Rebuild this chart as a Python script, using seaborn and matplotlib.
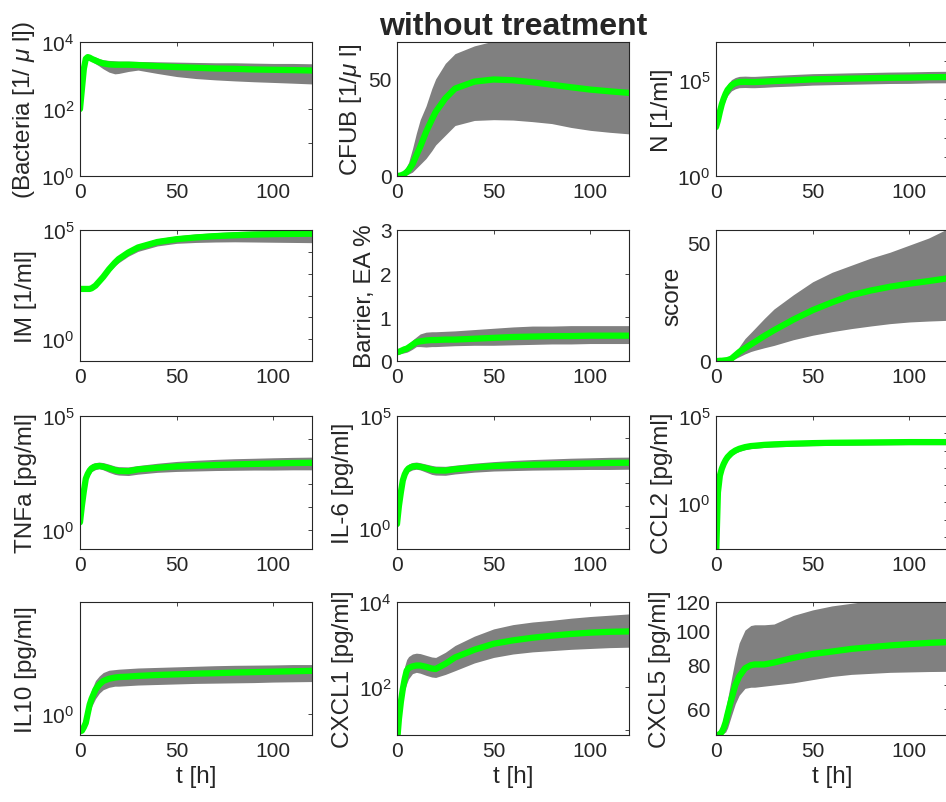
import matplotlib
matplotlib.use("Agg")
import matplotlib.pyplot as plt
import seaborn as sns
from matplotlib.ticker import FixedLocator, NullFormatter, FixedFormatter

sns.set_style("white")
plt.rcParams['font.family'] = ['Liberation Sans', 'DejaVu Sans']
plt.rcParams['mathtext.fontset'] = 'custom'
plt.rcParams['mathtext.rm'] = 'Liberation Sans'
plt.rcParams['mathtext.it'] = 'Liberation Sans:italic'

# time grid [h]
t = [0, 1, 2, 3, 4, 5, 6, 8, 10, 12, 15, 18, 20, 25, 30, 40, 50, 60, 70, 80, 90, 100, 110, 120]

# mean (green) and lower / upper envelope of the gray simulations
bacteria_mean = [100, 400, 1600, 3150, 3550, 3400, 3150, 2800, 2500, 2300, 2150, 2100, 2100, 2100, 2050, 1900, 1780, 1700, 1620, 1580, 1510, 1480, 1450, 1410]
bacteria_hi = [112, 500, 1995, 3800, 4170, 3980, 3800, 3550, 3160, 2950, 2820, 2750, 2690, 2690, 2630, 2570, 2510, 2450, 2400, 2400, 2340, 2290, 2290, 2240]
bacteria_lo = [89, 316, 1260, 2630, 3160, 2950, 2630, 2240, 1900, 1580, 1260, 1120, 1150, 1320, 1450, 1150, 930, 810, 740, 690, 650, 620, 590, 560]

cfub_mean = [0, 0.1, 0.3, 0.7, 1.2, 2, 3, 6, 10.6, 15, 22.6, 29, 33, 40, 45, 48.6, 49.7, 49.3, 48.3, 47, 45.7, 44.5, 43.6, 42.8]
cfub_hi = [0, 0.3, 1, 2, 3.5, 5, 7, 14, 22, 29, 36, 45, 50, 58, 63, 67, 69.5, 71, 72, 72, 72, 71.5, 71, 70]
cfub_lo = [0, 0, 0.1, 0.2, 0.4, 0.7, 1, 2, 4, 6, 9, 13, 16, 21, 26, 28.6, 29, 28.8, 28, 27, 25, 23.5, 22.5, 21.7]

n_mean = [360, 790, 2240, 5600, 11200, 20000, 31600, 55000, 71000, 81000, 83000, 81000, 81000, 85000, 91000, 100000, 112000, 117000, 123000, 129000, 135000, 138000, 145000, 148000]
n_hi = [450, 1200, 4000, 10500, 21000, 39000, 62000, 108000, 140000, 160000, 165000, 160000, 160000, 170000, 180000, 200000, 222000, 232000, 245000, 256000, 268000, 275000, 288000, 295000]
n_lo = [295, 520, 1250, 2900, 5700, 10100, 16000, 28000, 36000, 41000, 42000, 41000, 41000, 43000, 46000, 50000, 56000, 59000, 62000, 65000, 68000, 69000, 73000, 74000]

im_mean = [200, 200, 200, 200, 200, 200, 214, 282, 447, 708, 1585, 3160, 4680, 9330, 15850, 28200, 38000, 45700, 52500, 57500, 61700, 64600, 66100, 67600]
im_hi = [224, 224, 224, 224, 224, 224, 240, 331, 537, 891, 2000, 4170, 6170, 12600, 21400, 39800, 53700, 66100, 75900, 85100, 91200, 95500, 100000, 105000]
im_lo = [178, 178, 178, 178, 178, 178, 190, 240, 363, 562, 1200, 2240, 3160, 6310, 10500, 18600, 24500, 26900, 28200, 28800, 28200, 27500, 26900, 26300]

barrier_mean = [0.2, 0.21, 0.23, 0.25, 0.27, 0.28, 0.31, 0.37, 0.43, 0.45, 0.47, 0.48, 0.48, 0.49, 0.49, 0.51, 0.53, 0.55, 0.56, 0.57, 0.57, 0.58, 0.58, 0.58]
barrier_hi = [0.22, 0.24, 0.27, 0.3, 0.33, 0.36, 0.4, 0.48, 0.55, 0.62, 0.66, 0.67, 0.67, 0.68, 0.69, 0.72, 0.75, 0.78, 0.8, 0.8, 0.81, 0.81, 0.81, 0.81]
barrier_lo = [0.15, 0.16, 0.17, 0.18, 0.19, 0.2, 0.22, 0.27, 0.33, 0.33, 0.32, 0.33, 0.33, 0.34, 0.35, 0.36, 0.36, 0.37, 0.38, 0.39, 0.39, 0.4, 0.4, 0.4]

score_mean = [0, 0, 0.1, 0.1, 0.2, 0.3, 0.4, 1.0, 2.4, 3.8, 5.4, 7, 8, 10.6, 13, 17.5, 21.5, 24.8, 27.8, 29.8, 31.4, 32.7, 33.8, 35]
score_hi = [0, 0, 0.2, 0.3, 0.5, 0.7, 1, 2.2, 3.8, 6, 9.5, 12, 13.7, 18, 22, 28, 33.5, 37.5, 40.5, 43.5, 46, 49, 52, 56]
score_lo = [0, 0, 0, 0, 0, 0.1, 0.1, 0.4, 1, 1.8, 3, 4, 4.5, 5.6, 6.6, 9, 10.9, 12.4, 13.7, 14.8, 15.8, 16.5, 16.9, 17.2]

tnfa_mean = [2.1, 11.5, 50, 174, 282, 398, 501, 603, 631, 589, 501, 417, 380, 372, 447, 525, 603, 646, 692, 741, 776, 813, 851, 871]
tnfa_hi = [2.2, 14, 71, 251, 447, 631, 794, 891, 933, 891, 759, 631, 589, 575, 661, 832, 1000, 1120, 1230, 1320, 1380, 1450, 1510, 1550]
tnfa_lo = [1.9, 8.9, 35, 112, 191, 263, 355, 437, 479, 427, 331, 269, 251, 240, 275, 331, 363, 380, 398, 407, 417, 417, 427, 427]

il6_mean = [1.55, 10, 40, 135, 251, 372, 468, 562, 589, 550, 479, 407, 380, 372, 427, 513, 589, 631, 676, 708, 741, 776, 813, 832]
il6_hi = [1.66, 12.6, 56, 191, 380, 562, 724, 851, 891, 832, 724, 631, 589, 575, 646, 794, 933, 1050, 1150, 1230, 1320, 1380, 1450, 1480]
il6_lo = [1.45, 7.9, 28, 89, 166, 251, 331, 398, 427, 398, 316, 251, 234, 229, 263, 316, 355, 372, 389, 398, 407, 417, 417, 427]

ccl2_mean = [0.0005, 3.8, 35, 89, 170, 282, 417, 708, 1000, 1260, 1580, 1820, 1900, 2140, 2290, 2510, 2690, 2820, 2880, 2950, 3020, 3090, 3090, 3090]
ccl2_hi = [0.0005, 6.3, 56, 141, 263, 417, 603, 1000, 1410, 1780, 2240, 2510, 2630, 2950, 3160, 3470, 3720, 3890, 3980, 4070, 4170, 4270, 4270, 4270]
ccl2_lo = [0.0005, 2.2, 22, 56, 110, 191, 282, 501, 708, 891, 1120, 1290, 1350, 1510, 1620, 1780, 1910, 2000, 2040, 2090, 2140, 2190, 2190, 2190]

il10_mean = [0.70, 0.71, 0.76, 0.83, 1.0, 1.2, 1.35, 1.62, 1.8, 1.93, 2.02, 2.07, 2.09, 2.11, 2.14, 2.18, 2.21, 2.24, 2.26, 2.29, 2.31, 2.33, 2.35, 2.37]
il10_hi = [0.71, 0.74, 0.81, 0.93, 1.15, 1.41, 1.62, 1.95, 2.14, 2.29, 2.40, 2.43, 2.45, 2.48, 2.51, 2.54, 2.57, 2.60, 2.63, 2.65, 2.66, 2.67, 2.69, 2.69]
il10_lo = [0.68, 0.68, 0.71, 0.76, 0.87, 1.02, 1.15, 1.35, 1.51, 1.62, 1.70, 1.74, 1.74, 1.76, 1.78, 1.80, 1.82, 1.84, 1.85, 1.86, 1.87, 1.89, 1.90, 1.91]

cxcl1_mean = [5, 18, 45, 91, 158, 245, 282, 309, 324, 324, 302, 275, 269, 355, 501, 759, 1050, 1260, 1450, 1620, 1780, 1910, 2000, 2040]
cxcl1_hi = [5, 25, 79, 178, 316, 447, 525, 603, 631, 617, 562, 513, 501, 661, 955, 1580, 2340, 2950, 3390, 3720, 4170, 4570, 4900, 5250]
cxcl1_lo = [5, 12.6, 28, 56, 89, 120, 158, 209, 224, 214, 191, 174, 170, 200, 245, 372, 501, 603, 676, 724, 776, 813, 851, 871]

cxcl5_mean = [50.5, 50.6, 50.9, 51.6, 53, 55, 58, 64, 70, 74, 78, 79.6, 80, 80, 81, 83.5, 85.6, 87, 88.5, 89.5, 90.5, 91.3, 92, 92.5]
cxcl5_hi = [50.6, 51, 52, 54, 57, 60, 64, 73, 83, 92, 100, 103, 103.5, 103.5, 104, 110, 114, 117, 119, 121, 122, 122, 122, 122]
cxcl5_lo = [50.4, 50.5, 50.6, 50.9, 51.2, 51.6, 53, 57.4, 62, 65.5, 68.5, 69, 69, 69.5, 70, 71, 72.5, 74, 75, 75.5, 76, 76.2, 76.4, 76.5]

ylabels = ['(Bacteria [1/ $\\mu$ l])', 'CFUB [1/$\\mu$ l]', 'N [1/ml]',
           'IM [1/ml]', 'Barrier, EA %', 'score',
           'TNFa [pg/ml]', 'IL-6 [pg/ml]', 'CCL2 [pg/ml]',
           'IL10 [pg/ml]', 'CXCL1 [pg/ml]', 'CXCL5 [pg/ml]']

# (mean, lo, hi, log?, ylim, major ticks, tick labels, minor ticks)
panels = [
    (bacteria_mean, bacteria_lo, bacteria_hi, True, (1, 1e4), [1, 1e2, 1e4], ['$10^{0}$', '$10^{2}$', '$10^{4}$'], [10, 1e3]),
    (cfub_mean, cfub_lo, cfub_hi, False, (0, 69), [0, 50], ['0', '50'], []),
    (n_mean, n_lo, n_hi, True, (1, 1e7), [1, 1e5], ['$10^{0}$', '$10^{5}$'], [10, 1e2, 1e3, 1e4, 1e6]),
    (im_mean, im_lo, im_hi, True, (0.1, 1e5), [1, 1e5], ['$10^{0}$', '$10^{5}$'], [10, 1e2, 1e3, 1e4]),
    (barrier_mean, barrier_lo, barrier_hi, False, (0, 3), [0, 1, 2, 3], ['0', '1', '2', '3'], []),
    (score_mean, score_lo, score_hi, False, (0, 55.4), [0, 50], ['0', '50'], []),
    (tnfa_mean, tnfa_lo, tnfa_hi, True, (0.14, 1e5), [1, 1e5], ['$10^{0}$', '$10^{5}$'], [10, 1e2, 1e3, 1e4]),
    (il6_mean, il6_lo, il6_hi, True, (0.12, 1e5), [1, 1e5], ['$10^{0}$', '$10^{5}$'], [10, 1e2, 1e3, 1e4]),
    (ccl2_mean, ccl2_lo, ccl2_hi, True, (0.002, 1e5), [1, 1e5], ['$10^{0}$', '$10^{5}$'], [0.01, 0.1, 10, 1e2, 1e3, 1e4]),
    (il10_mean, il10_lo, il10_hi, True, (0.65, 9.5), [1], ['$10^{0}$'], []),
    (cxcl1_mean, cxcl1_lo, cxcl1_hi, True, (7.6, 1e4), [1e2, 1e4], ['$10^{2}$', '$10^{4}$'], [10, 1e3]),
    (cxcl5_mean, cxcl5_lo, cxcl5_hi, True, (50.6, 120), [60, 80, 100, 120], ['60', '80', '100', '120'], [70, 90, 110]),
]

W, H = 946, 803
fig = plt.figure(figsize=(W / 100, H / 100), dpi=100)

col_left = [80, 397, 716]
row_top = [43, 231, 417, 603]
row_h = [134, 131, 133, 133]
ax_w = 232
dark = '#262626'

for i, (mean, lo, hi, logy, ylim, yt, ytl, yminor) in enumerate(panels):
    r, c = divmod(i, 3)
    ax = fig.add_axes([col_left[c] / W, 1 - (row_top[r] + row_h[r]) / H, ax_w / W, row_h[r] / H])
    if logy:
        ax.set_yscale('log')
    ax.fill_between(t, lo, hi, color='#808080', lw=0)
    sns.lineplot(x=t, y=mean, ax=ax, color='#00ff00', lw=4.5)
    ax.set_xlim(0, 120)
    ax.set_ylim(*ylim)
    ax.set_xticks([0, 50, 100])
    ax.yaxis.set_major_locator(FixedLocator(yt))
    ax.yaxis.set_major_formatter(FixedFormatter(ytl))
    ax.yaxis.set_minor_locator(FixedLocator(yminor))
    ax.yaxis.set_minor_formatter(NullFormatter())
    ax.tick_params(which='both', direction='in', top=True, right=True, length=3,
                   width=0.6, color=dark, labelcolor=dark, labelsize=15, pad=4)
    for sp in ax.spines.values():
        sp.set_color(dark)
        sp.set_linewidth(0.8)
    ax.set_ylabel(ylabels[i], fontsize=17.5, color=dark, labelpad=3)
    if r == 3:
        ax.set_xlabel('t [h]', fontsize=17.5, color=dark, labelpad=4)
    if i == 1:
        ax.set_title('without treatment', fontsize=23, fontweight='bold', pad=6)

fig.savefig('out.png', dpi=100)
